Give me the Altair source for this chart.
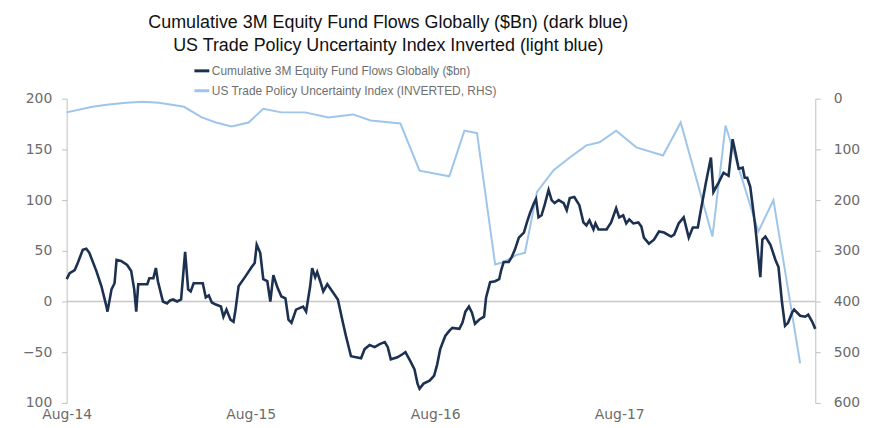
import altair as alt
import pandas as pd

SER1 = "Cumulative 3M Equity Fund Flows Globally ($bn)"
SER2 = "US Trade Policy Uncertainty Index (INVERTED, RHS)"

flow_dates = [
    "2014-08-01", "2014-08-07", "2014-08-17", "2014-08-23", "2014-09-02", "2014-09-09", "2014-09-15",
    "2014-09-29", "2014-10-09", "2014-10-19", "2014-10-21", "2014-10-29", "2014-11-04", "2014-11-08",
    "2014-11-17", "2014-11-29", "2014-12-07", "2014-12-13", "2014-12-17", "2014-12-21", "2014-12-29",
    "2015-01-08", "2015-01-12", "2015-01-20", "2015-01-25", "2015-01-29", "2015-02-08", "2015-02-16",
    "2015-02-22", "2015-02-28", "2015-03-08", "2015-03-16", "2015-03-24", "2015-03-30", "2015-04-04",
    "2015-04-10", "2015-04-20", "2015-04-28", "2015-05-04", "2015-05-10", "2015-05-16", "2015-05-24",
    "2015-06-03", "2015-06-08", "2015-06-14", "2015-06-22", "2015-06-28", "2015-07-02", "2015-07-08",
    "2015-07-22", "2015-08-03", "2015-08-09", "2015-08-13", "2015-08-20", "2015-08-26", "2015-09-03",
    "2015-09-09", "2015-09-15", "2015-09-23", "2015-10-01", "2015-10-09", "2015-10-15", "2015-10-21",
    "2015-10-30", "2015-11-13", "2015-11-19", "2015-11-27", "2015-12-01", "2015-12-07", "2015-12-11",
    "2015-12-17", "2015-12-23", "2015-12-31", "2016-01-07", "2016-01-21", "2016-01-31", "2016-02-06",
    "2016-02-16", "2016-02-26", "2016-03-07", "2016-03-14", "2016-03-24", "2016-04-03", "2016-04-13",
    "2016-04-23", "2016-04-29", "2016-05-05", "2016-05-18", "2016-05-28", "2016-06-03", "2016-06-13",
    "2016-06-21", "2016-06-27", "2016-07-01", "2016-07-09", "2016-07-21", "2016-07-30", "2016-08-05",
    "2016-08-11", "2016-08-21", "2016-08-29", "2016-09-04", "2016-09-18", "2016-09-24", "2016-09-30",
    "2016-10-07", "2016-10-13", "2016-10-19", "2016-10-27", "2016-11-06", "2016-11-10", "2016-11-18",
    "2016-11-28", "2016-12-06", "2016-12-10", "2016-12-15", "2016-12-25", "2016-12-31", "2017-01-06",
    "2017-01-14", "2017-01-24", "2017-01-30", "2017-02-05", "2017-02-13", "2017-02-17", "2017-02-22",
    "2017-02-28", "2017-03-06", "2017-03-14", "2017-03-20", "2017-03-26", "2017-04-03", "2017-04-13",
    "2017-04-19", "2017-04-25", "2017-05-04", "2017-05-14", "2017-05-22", "2017-05-28", "2017-06-03",
    "2017-06-11", "2017-06-15", "2017-06-21", "2017-07-07", "2017-07-16", "2017-07-26", "2017-08-01",
    "2017-08-09", "2017-08-15", "2017-08-21", "2017-08-29", "2017-09-08", "2017-09-14", "2017-09-19",
    "2017-09-29", "2017-10-09", "2017-10-19", "2017-10-29", "2017-11-12", "2017-11-18", "2017-11-27",
    "2017-12-07", "2017-12-17", "2017-12-25", "2018-01-04", "2018-01-10", "2018-01-20", "2018-01-30",
    "2018-02-04", "2018-02-14", "2018-02-24", "2018-03-06", "2018-03-14", "2018-03-20", "2018-03-26",
    "2018-04-03", "2018-04-07", "2018-04-12", "2018-04-18", "2018-04-28", "2018-05-08", "2018-05-12",
    "2018-05-18", "2018-05-28", "2018-06-07", "2018-06-13", "2018-06-20", "2018-06-26", "2018-07-02",
    "2018-07-10", "2018-07-14", "2018-07-26", "2018-08-05", "2018-08-11", "2018-08-19", "2018-08-25",
]
flow_values = [
    22, 28, 31, 38, 51, 52, 48,
    30, 15, -5, -10, 12, 18, 41,
    40, 36, 30, 12, -10, 17, 17,
    17, 23, 23, 33, 20, 0, -2,
    1, 2, 0, 2, 49, 12, 10,
    18, 18, 18, 4, 6, -1, -3,
    -5, -15, -8, -18, -20, -8, 15,
    25, 34, 38, 56, 48, 22, 20,
    0, 26, 14, 5, 3, -18, -21,
    -8, -5, -10, 15, 33, 24, 29,
    20, 10, 17, 12, 2, -21, -34,
    -54, -55, -56, -47, -43, -45, -42,
    -40, -45, -57, -55, -52, -50, -59,
    -67, -81, -86, -81, -78, -73, -62,
    -47, -34, -29, -26, -27, -21, -10,
    -5, -11, -22, -18, -15, 4, 19,
    20, 22, 31, 39, 39, 44, 51,
    63, 68, 78, 87, 97, 101, 83,
    85, 95, 110, 100, 97, 100, 97,
    90, 102, 103, 95, 78, 75, 80,
    71, 77, 71, 71, 78, 92, 83,
    85, 77, 81, 77, 78, 74, 63,
    57, 61, 69, 68, 64, 66, 77,
    83, 63, 73, 73, 90, 117, 142,
    108, 117, 127, 124, 160, 146, 131,
    132, 122, 122, 113, 74, 24, 61,
    64, 56, 41, 34, -1, -24, -21,
    -11, -8, -14, -15, -13, -20, -27,
]

tpu_dates = [
    "2014-08-01", "2014-09-21", "2014-10-19", "2014-11-27", "2014-12-29", "2015-01-31", "2015-03-22",
    "2015-04-26", "2015-05-24", "2015-06-24", "2015-07-28", "2015-08-26", "2015-10-01", "2015-11-17",
    "2016-01-02", "2016-02-20", "2016-03-26", "2016-05-24", "2016-07-01", "2016-08-29", "2016-09-28",
    "2016-10-23", "2016-11-28", "2016-12-15", "2017-01-10", "2017-01-26", "2017-02-19", "2017-03-24",
    "2017-04-25", "2017-05-28", "2017-06-23", "2017-07-26", "2017-09-04", "2017-10-27", "2017-12-01",
    "2018-02-02", "2018-02-28", "2018-05-04", "2018-06-03", "2018-07-26",
]
tpu_values = [
    27, 16, 12, 8, 6, 8, 16,
    37, 47, 55, 47, 20, 27, 27,
    37, 31, 43, 49, 142, 153, 63,
    68, 327, 322, 308, 304, 184, 141,
    116, 92, 86, 63, 96, 112, 47,
    272, 53, 262, 200, 522,
]

flow_df = pd.DataFrame({"date": flow_dates, "value": flow_values, "series": SER1})
tpu_df = pd.DataFrame({"date": tpu_dates, "value": tpu_values, "series": SER2})
zero_df = pd.DataFrame({"zero": [0]})

x_ticks = [alt.DateTime(year=y, month=8, date=1, utc=True) for y in (2014, 2015, 2016, 2017)]

x_enc = alt.X(
    "date:T",
    scale=alt.Scale(
        type="utc",
        domain=[alt.DateTime(year=2014, month=8, date=1, utc=True),
                alt.DateTime(year=2018, month=8, date=25, utc=True)],
    ),
    axis=alt.Axis(
        values=x_ticks, labelExpr="utcFormat(datum.value, '%b-%y')", domain=False, ticks=False,
        grid=False, title=None, labelFont="DejaVu Sans", labelFontSize=14, labelColor="#6b6b6b",
        labelPadding=5, labelFlush=False,
    ),
)

color_enc = alt.Color(
    "series:N",
    scale=alt.Scale(domain=[SER1, SER2], range=["#1c3050", "#9ec5ea"]),
    legend=alt.Legend(
        orient="none", legendX=127, legendY=-37, title=None, direction="vertical",
        symbolType="stroke", symbolSize=225, symbolStrokeWidth=3, labelFont="Liberation Sans",
        labelFontSize=12, labelFontWeight="normal", labelColor="#6f6f6f", labelOffset=1,
        labelLimit=0, rowPadding=5, padding=0,
    ),
)

axis_common = dict(
    grid=False, title=None, domainColor="#bfbfbf", tickColor="#bfbfbf", tickSize=5,
    labelFont="DejaVu Sans", labelFontSize=14, labelColor="#6b6b6b",
)

tpu = alt.Chart(tpu_df).mark_line(strokeWidth=2).encode(
    x=x_enc,
    y=alt.Y("value:Q", scale=alt.Scale(domain=[0, 600], reverse=True, nice=False),
            axis=alt.Axis(orient="right", values=[0, 100, 200, 300, 400, 500, 600],
                          labelPadding=13, **axis_common)),
    color=color_enc,
)

zero = alt.Chart(zero_df).mark_rule(color="#c8c8c8", strokeWidth=1.3).encode(
    y=alt.Y("zero:Q")
)

flow = alt.Chart(flow_df).mark_line(strokeWidth=2.6).encode(
    x=x_enc,
    y=alt.Y("value:Q", scale=alt.Scale(domain=[-100, 200], nice=False),
            axis=alt.Axis(orient="left", values=[-100, -50, 0, 50, 100, 150, 200],
                          labelExpr="datum.value == -100 ? '100' : datum.label",
                          labelPadding=10, **axis_common)),
    color=color_enc,
)

chart = alt.layer(tpu, alt.layer(zero, flow)).resolve_scale(y="independent").properties(
    width=753,
    height=306,
    autosize=alt.AutoSizeParams(type="none"),
    padding={"left": 59, "top": 90, "right": 48, "bottom": 20},
    title=alt.TitleParams(
        text=["Cumulative 3M Equity Fund Flows Globally ($Bn) (dark blue)",
              "US Trade Policy Uncertainty Index Inverted (light blue)"],
        font="Liberation Sans", fontSize=18, fontWeight="normal", color="#111111",
        anchor="middle", frame="group", dx=-53, lineHeight=23, offset=7,
    ),
).configure_view(stroke=None)

chart.save("out.html", embed_options={"renderer": "svg", "actions": False})
